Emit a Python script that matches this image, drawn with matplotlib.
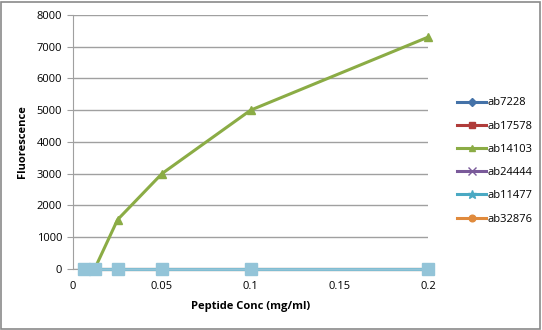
import matplotlib.pyplot as plt
from matplotlib.patches import Rectangle

plt.rcParams['font.family'] = ['Open Sans', 'DejaVu Sans']

# peptide dilution series
conc = [0.00625, 0.0125, 0.025, 0.05, 0.1, 0.2]

ab7228 = [0, 0, 0, 0, 0, 0]
ab17578 = [0, 0, 0, 0, 0, 0]
ab14103 = [0, 50, 1550, 3000, 5000, 7300]
ab24444 = [0, 0, 0, 0, 0, 0]
ab11477 = [0, 0, 0, 0, 0, 0]
ab32876 = [0, 0, 0, 0, 0, 0]

series = [
    ("ab7228", ab7228, "#4472a8", "D", 5),
    ("ab17578", ab17578, "#b03c3a", "s", 5),
    ("ab14103", ab14103, "#8bac45", "^", 6),
    ("ab24444", ab24444, "#7a5a9a", "x", 7),
    ("ab32876", ab32876, "#e08a3c", "o", 6),
    ("ab11477", ab11477, "#4aa9c3", "*", 8),
]

fig = plt.figure(figsize=(5.42, 3.30), dpi=100)
ax = fig.add_axes([0.135, 0.185, 0.655, 0.77])

lines = {}
for name, vals, color, marker, ms in series:
    ln, = ax.plot(conc, vals, color=color, marker=marker, markersize=ms,
                  linewidth=2.2, label=name, zorder=3, clip_on=False)
    lines[name] = ln

# blobby light-blue markers sitting on top of the zero series
ax.plot(conc, ab11477, color="#93c4d8", marker="s", markersize=8,
        linewidth=1.8, zorder=4, clip_on=False)

ax.set_xlim(0, 0.2)
ax.set_ylim(0, 8000)
ax.set_xticks([0, 0.05, 0.1, 0.15, 0.2])
ax.set_xticklabels(["0", "0.05", "0.1", "0.15", "0.2"])
ax.set_yticks(range(0, 8001, 1000))
ax.yaxis.grid(True, color="#a0a0a0", linewidth=1)
ax.set_axisbelow(True)
for side in ["top", "right"]:
    ax.spines[side].set_visible(False)
for side in ["left", "bottom"]:
    ax.spines[side].set_color("#a0a0a0")
ax.tick_params(axis="both", labelsize=8, colors="#a0a0a0", labelcolor="black",
               length=4, direction="out")
ax.tick_params(axis="y", pad=4)
ax.tick_params(axis="x", length=0, pad=9)

ax.set_xlabel("Peptide Conc (mg/ml)", fontsize=8, fontweight="bold", labelpad=6)
ax.set_ylabel("Fluorescence", fontsize=8, fontweight="bold", labelpad=6)

order = ["ab7228", "ab17578", "ab14103", "ab24444", "ab11477", "ab32876"]
fig.legend([lines[n] for n in order], order, loc="upper left",
           bbox_to_anchor=(0.825, 0.735), frameon=False, fontsize=8,
           handlelength=2.6, labelspacing=1.1, handletextpad=0.1,
           markerscale=0.8)

fig.patches.append(Rectangle((0.002, 0.003), 0.994, 0.992, transform=fig.transFigure,
                             fill=False, edgecolor="#8a8a8a", linewidth=1.2))

fig.savefig("out.png", dpi=100)
